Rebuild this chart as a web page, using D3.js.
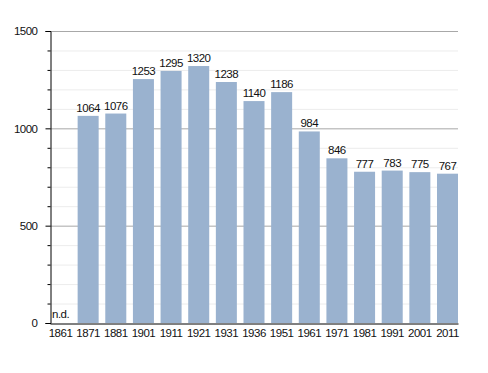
<!DOCTYPE html>
<html>
<head>
<meta charset="utf-8">
<script src="https://cdn.jsdelivr.net/npm/d3@7"></script>
<style>
  body { margin: 0; background: #fff; }
  text { font-family: "Liberation Sans", Arial, sans-serif; letter-spacing: -0.5px; }
</style>
</head>
<body>
<div id="chart"></div>
<script>
// population by census year; 1861 has no data (n.d.)
var years = ["1861", "1871", "1881", "1901", "1911", "1921", "1931", "1936", "1951", "1961", "1971", "1981", "1991", "2001", "2011"];
var population = [null, 1064, 1076, 1253, 1295, 1320, 1238, 1140, 1186, 984, 846, 777, 783, 775, 767];
var majorTicks = [0, 500, 1000, 1500];

(function () {
  var W = 488, H = 373;
  var left = 50, right = 458, top = 31, bottom = 323;
  var font = "Liberation Sans, Arial, sans-serif";

  var svg = d3.select("#chart").append("svg").attr("width", W).attr("height", H);

  var x = d3.scaleBand().domain(years).range([left, right]).paddingInner(0.24).paddingOuter(0);
  var y = d3.scaleLinear().domain([0, 1500]).range([bottom, top]);

  var minor = d3.range(100, 1500, 100).filter(function (v) { return v % 500 !== 0; });

  // minor grid
  svg.append("g").selectAll("line").data(minor).enter().append("line")
    .attr("x1", left).attr("x2", right)
    .attr("y1", function (d) { return y(d) + 0.5; }).attr("y2", function (d) { return y(d) + 0.5; })
    .attr("stroke", "#ececec").attr("stroke-width", 1);
  // major grid
  svg.append("g").selectAll("line").data(majorTicks.slice(1)).enter().append("line")
    .attr("x1", left).attr("x2", right)
    .attr("y1", function (d) { return y(d) + 0.5; }).attr("y2", function (d) { return y(d) + 0.5; })
    .attr("stroke", "#a8a8a8").attr("stroke-width", 1);

  // bars
  svg.append("g").selectAll("rect").data(years).enter()
    .filter(function (d, i) { return population[i] != null; })
    .append("rect")
    .attr("x", function (d) { return x(d); })
    .attr("width", x.bandwidth())
    .attr("y", function (d) { return y(population[years.indexOf(d)]); })
    .attr("height", function (d) { return bottom - y(population[years.indexOf(d)]); })
    .attr("fill", "#9ab2cf");

  // value labels
  svg.append("g").selectAll("text").data(years).enter().append("text")
    .attr("x", function (d, i) { return population[i] == null ? x(d) + 2 : x(d) + x.bandwidth() / 2; })
    .attr("y", function (d, i) { return population[i] == null ? bottom - 5 : y(population[i]) - 4; })
    .attr("text-anchor", function (d, i) { return population[i] == null ? "start" : "middle"; })
    .attr("font-size", 11.5).attr("fill", "#111")
    .text(function (d, i) { return population[i] == null ? "n.d." : population[i]; });

  // y axis
  var yAxis = svg.append("g").attr("transform", "translate(" + (left + 0.5) + ",0)")
    .call(d3.axisLeft(y).tickValues(majorTicks).tickFormat(d3.format("d")).tickSize(5).tickPadding(8));
  yAxis.select(".domain").attr("stroke", "#000");
  yAxis.selectAll("text").attr("font-size", 11.5).attr("fill", "#111").style("font-family", font);
  yAxis.selectAll(".tick line").attr("stroke", "#000");
  yAxis.append("g").selectAll("line").data(minor).enter().append("line")
    .attr("x1", -3).attr("x2", 0)
    .attr("y1", function (d) { return y(d) + 0.5; }).attr("y2", function (d) { return y(d) + 0.5; })
    .attr("stroke", "#000");

  // x axis
  var xAxis = svg.append("g").attr("transform", "translate(0," + (bottom + 0.5) + ")")
    .call(d3.axisBottom(x).tickSize(0).tickPadding(5));
  xAxis.select(".domain").attr("stroke", "#000");
  xAxis.selectAll("text").attr("font-size", 11.5).attr("fill", "#111").style("font-family", font);
})();
</script>
</body>
</html>
